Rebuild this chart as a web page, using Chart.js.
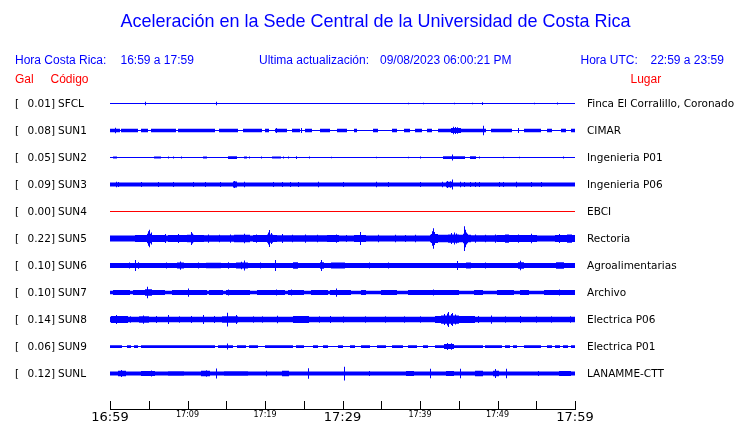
<!DOCTYPE html>
<html><head><meta charset="utf-8">
<script src="https://cdn.jsdelivr.net/npm/chart.js@4.4.0/dist/chart.umd.min.js"></script>
<style>html,body{margin:0;padding:0;background:#fff;}#wrap{width:740px;height:423px;position:relative;}</style>
</head><body><div id="wrap"><canvas id="c" width="740" height="423"></canvas></div>
<script>
// ---------- data ----------
const stationCodes = ['SFCL','SUN1','SUN2','SUN3','SUN4','SUN5','SUN6','SUN7','SUN8','SUN9','SUNL'];
const peakGal = ['0.01','0.08','0.05','0.09','0.00','0.22','0.10','0.10','0.14','0.06','0.12'];
const places = ['Finca El Corralillo, Coronado','CIMAR','Ingenieria P01','Ingenieria P06','EBCI','Rectoria','Agroalimentarias','Archivo','Electrica P06','Electrica P01','LANAMME-CTT'];
// background (noise) half-amplitude of each trace, Gal
const baseGal = [0.009,0.009,0.009,0.036,0.009,0.055,0.045,0.03,0.05,0.009,0.036];
const tickLabels = ['16:59','17:09','17:19','17:29','17:39','17:49','17:59'];
// bursts: [start minute, end minute, half-amplitude Gal], minutes after 16:59
const evSFCL = [[4.6,4.6,0.03],[13.7,13.7,0.03],[38.5,38.5,0.015],[40.4,40.4,0.015],[44.5,44.5,0.015],[46.8,46.8,0.015],[48.0,48.0,0.025],[54.8,54.8,0.015],[57.7,57.7,0.02]];
const evSUN1 = [[0,1.2,0.032],[0.7,0.7,0.05],[1.5,3.5,0.032],[4,4.8,0.032],[5.3,8.4,0.032],[8.8,13.5,0.032],[14.1,16.4,0.032],[17.2,19.5,0.03],[20,20.5,0.03],[21.3,22.8,0.032],[21.5,21.5,0.045],[23.5,24.5,0.03],[24.7,24.7,0.045],[25.2,26.0,0.03],[27.1,28.3,0.03],[29.3,30.5,0.03],[31.5,31.8,0.03],[34.0,34.5,0.03],[36.5,37.0,0.03],[38.0,38.6,0.03],[39.4,40.2,0.03],[41.0,41.5,0.03],[42.4,48.4,0.032],[44.1,45.2,0.045],[44.3,44.3,0.07],[44.6,44.6,0.065],[44.9,44.9,0.06],[48.2,48.2,0.085],[49.2,51.8,0.03],[52.7,52.7,0.045],[53.5,55.5,0.03],[56.5,57.0,0.03],[58.2,58.8,0.03],[59.5,60,0.03]];
const evSUN2 = [[0.4,0.9,0.02],[5.7,6.5,0.02],[7.5,7.5,0.02],[8.2,8.2,0.02],[9.2,9.2,0.02],[12,12.5,0.02],[15.3,16.3,0.025],[17.4,17.6,0.02],[18,18,0.02],[19.6,19.6,0.02],[21,22,0.02],[22.4,22.4,0.02],[23,23,0.02],[24.1,24.1,0.025],[25.8,25.8,0.02],[28.6,28.6,0.015],[34.4,34.4,0.015],[38.5,38.5,0.015],[40,40,0.02],[43,45.8,0.025],[44.2,44.2,0.055],[46.5,47.1,0.025],[47.7,47.7,0.02],[50.8,50.8,0.015],[52.8,52.8,0.015],[58.5,58.5,0.02]];
const evSUN3 = [[0.8,0.8,0.05],[1.1,1.1,0.045],[4,4,0.045],[6.2,6.2,0.045],[8.2,8.2,0.045],[10.8,10.8,0.045],[12.3,12.3,0.045],[14.2,14.2,0.045],[15.9,16.3,0.055],[16.1,16.1,0.065],[17.4,17.4,0.05],[21.1,21.1,0.045],[22.2,22.2,0.045],[23.3,23.3,0.045],[24.3,24.3,0.045],[26.9,26.9,0.05],[30.1,30.1,0.045],[34.4,34.4,0.05],[35.9,35.9,0.045],[40,40,0.045],[42.9,42.9,0.05],[43.4,44.1,0.05],[43.6,43.6,0.065],[43.9,43.9,0.06],[44.2,44.2,0.09],[45.2,45.2,0.05],[45.8,45.8,0.045],[46.5,46.5,0.045],[47.1,47.1,0.045],[47.7,47.7,0.045],[50.3,50.3,0.045],[50.8,50.8,0.045],[52.5,52.5,0.05],[54.4,54.4,0.045],[55.7,55.7,0.045]];
const evSUN4 = [];
const evSUN5 = [[3.3,7,0.065],[4.9,5.4,0.085],[5.0,5.0,0.13],[5.1,5.1,0.16],[5.3,5.3,0.11],[7.1,7.1,0.08],[7.5,12,0.065],[8.8,8.8,0.08],[10,10.8,0.07],[10.5,10.5,0.12],[10.6,10.6,0.09],[12,16,0.06],[12.7,12.7,0.075],[14.1,14.1,0.07],[15.5,15.5,0.075],[16,18,0.07],[17.4,17.4,0.085],[18.5,21.5,0.065],[18.9,18.9,0.075],[20.3,21,0.075],[20.5,20.5,0.11],[20.6,20.6,0.155],[20.8,20.8,0.1],[21.5,28,0.06],[22.2,22.2,0.08],[23.6,23.6,0.07],[25.2,25.2,0.075],[26.8,26.8,0.07],[28,29.5,0.065],[29.2,29.2,0.075],[30.5,30.5,0.065],[31.5,33,0.065],[32.3,32.3,0.12],[33,41,0.055],[34.6,34.6,0.07],[36.8,36.8,0.07],[38.1,38.1,0.065],[39.4,39.4,0.07],[41.4,46.5,0.07],[41.5,42.2,0.08],[41.6,41.6,0.13],[41.7,41.7,0.185],[41.9,41.9,0.12],[43.7,45,0.075],[44.0,44.0,0.1],[44.4,44.4,0.11],[44.7,44.7,0.09],[45.6,46.1,0.085],[45.7,45.7,0.14],[45.8,45.8,0.225],[45.9,45.9,0.16],[46.0,46.0,0.11],[46.5,50,0.06],[47.1,47.1,0.075],[48.5,48.5,0.07],[49.8,49.8,0.075],[50,55,0.065],[51,51.4,0.075],[52.7,52.7,0.075],[54.4,54.4,0.085],[55,57,0.055],[57.5,60,0.065],[58,58,0.08],[59,59.6,0.075]];
const evSUN6 = [[2.5,2.5,0.055],[3.3,3.3,0.1],[3.7,3.7,0.06],[7.3,7.3,0.055],[8.7,9.5,0.055],[9.1,9.1,0.075],[11.4,11.4,0.055],[12.5,14.2,0.05],[15.3,15.3,0.06],[16.3,17.8,0.055],[17.0,17.0,0.07],[17.4,17.4,0.09],[19.4,19.4,0.055],[21.3,21.3,0.1],[23.7,24.2,0.06],[27.1,27.5,0.06],[27.3,27.3,0.1],[28.6,30.3,0.055],[33.5,33.5,0.055],[35.9,35.9,0.055],[44.8,44.8,0.08],[46,46.5,0.055],[48.4,48.4,0.055],[52.7,53.3,0.06],[53,53,0.085],[57.6,58.5,0.06]];
const evSUN7 = [[0.5,2.5,0.045],[3,7,0.045],[4.6,5.4,0.06],[4.9,4.9,0.105],[8,12.5,0.045],[10.1,10.1,0.075],[12.8,14.5,0.045],[15,18,0.045],[15.3,15.3,0.055],[19,22.5,0.045],[21.5,21.5,0.055],[23,25,0.045],[23.4,23.4,0.055],[26,28,0.045],[28.5,31,0.045],[29.2,29.2,0.075],[32.5,33,0.045],[35,37,0.045],[38.5,45,0.045],[41.7,41.7,0.055],[47,48,0.045],[50,52,0.045],[53,54,0.045],[56,60,0.045],[58,58,0.055]];
const evSUN8 = [[0.2,2.2,0.065],[0.9,0.9,0.08],[2.6,2.6,0.06],[3.8,5,0.06],[4.3,4.3,0.075],[6.0,6.0,0.065],[7.6,7.6,0.08],[9.0,9.0,0.06],[10.5,10.5,0.065],[12.1,12.1,0.08],[13.5,13.5,0.065],[14.5,16.5,0.06],[15.2,15.2,0.125],[16.3,16.3,0.08],[18.5,18.5,0.06],[19.7,19.7,0.06],[21.6,21.6,0.07],[23.7,25.6,0.065],[27,27,0.06],[28.5,28.5,0.065],[30.1,30.1,0.06],[33,33,0.06],[35.5,35.5,0.06],[38,38,0.06],[40,40,0.06],[42,47,0.065],[42.8,45,0.075],[43.2,43.2,0.1],[43.5,43.5,0.11],[43.7,43.7,0.135],[44.0,44.0,0.1],[44.2,44.2,0.12],[44.6,44.6,0.09],[47.5,47.5,0.065],[49.2,49.2,0.075],[51,51,0.06],[53,53,0.065],[55,55,0.06],[57,57,0.06],[59.4,59.4,0.06]];
const evSUN9 = [[0,1.5,0.025],[2.2,2.7,0.025],[3.2,3.6,0.025],[4,13.5,0.025],[14,15.8,0.025],[15.2,15.2,0.055],[16.5,17.5,0.025],[18,19,0.025],[20,23.5,0.025],[24,25,0.025],[26.3,26.8,0.025],[27.5,28,0.025],[29.5,30,0.025],[31,31.5,0.025],[32.5,33.5,0.025],[34.5,35.5,0.025],[36.5,37.8,0.025],[38.5,39.5,0.025],[40.5,41,0.025],[42,48,0.025],[43.2,44.3,0.045],[43.6,43.6,0.065],[44.0,44.0,0.06],[48.5,50.5,0.025],[51,51.5,0.025],[52,52.5,0.025],[53.5,55.5,0.025],[56.5,57,0.025],[57.5,58,0.025],[58.5,59,0.025],[59.5,60,0.025]];
const evSUNL = [[1.1,2,0.05],[1.5,1.5,0.065],[4.1,5.8,0.045],[5.4,5.4,0.055],[7.5,9.5,0.042],[11.8,12.9,0.048],[12.5,12.5,0.06],[13.8,13.8,0.09],[14.8,17.8,0.042],[20.2,20.2,0.05],[22.2,23,0.05],[25.6,25.6,0.095],[30.3,30.3,0.125],[33.5,33.5,0.045],[38.3,39.1,0.045],[41.3,41.3,0.085],[43.4,44.3,0.045],[45.2,45.2,0.085],[47.1,48,0.048],[49.5,50.1,0.05],[49.8,49.8,0.08],[51.1,51.1,0.085],[55.3,55.3,0.045],[58,59.4,0.045]];
const stationEvents = [evSFCL,evSUN1,evSUN2,evSUN3,evSUN4,evSUN5,evSUN6,evSUN7,evSUN8,evSUN9,evSUNL];
const traceColors = ['#0000ff','#0000ff','#0000ff','#0000ff','#ff0000','#0000ff','#0000ff','#0000ff','#0000ff','#0000ff','#0000ff'];

// ---------- layout constants ----------
const PX_PER_GAL = 55, ROW_PX = 27, TOP = 76, PLOT_H = 333;
const BINS = 465, BIN_MIN = 60 / BINS;

function rowCenter(i) { return -(ROW_PX / 2 + 14 + ROW_PX * i) / PX_PER_GAL; }

function traceBars(i) {
  const c = rowCenter(i), out = [];
  for (let k = 0; k < BINS; k++) {
    const t0 = k * BIN_MIN, t1 = t0 + BIN_MIN;
    let a = baseGal[i];
    for (const [s, e, g] of stationEvents[i]) if (e >= t0 && s < t1 && g > a) a = g;
    out.push({x: t0 + BIN_MIN / 2, y: [c - a, c + a]});
  }
  return out;
}

const datasets = stationCodes.map((code, i) => ({
  label: code, data: traceBars(i), backgroundColor: traceColors[i],
  borderWidth: 0, barThickness: 1, grouped: false, inflateAmount: 0
}));

const textPlugin = {
  id: 'texts',
  afterDraw(chart) {
    const ctx = chart.ctx, xs = chart.scales.x, ys = chart.scales.y;
    ctx.save();
    // upward tick marks on time axis
    ctx.strokeStyle = '#000'; ctx.lineWidth = 1; ctx.beginPath();
    xs.ticks.forEach(t => {
      const px = Math.round(xs.getPixelForValue(t.value)) + 0.5;
      ctx.moveTo(px, xs.top - 8); ctx.lineTo(px, xs.top);
    });
    ctx.stroke();
    const H = '"Liberation Sans", Arial, sans-serif';
    ctx.textBaseline = 'middle';
    ctx.fillStyle = '#0000ff';
    // title, fitted to its width
    const title = 'Aceleración en la Sede Central de la Universidad de Costa Rica';
    ctx.font = '20px ' + H;
    const sz = 20 * 510 / ctx.measureText(title).width;
    ctx.font = sz.toFixed(2) + 'px ' + H;
    ctx.textAlign = 'center';
    ctx.fillText(title, 375.5, 22);
    ctx.font = '12px ' + H;
    ctx.textAlign = 'left';
    ctx.fillText('Hora Costa Rica:', 15, 61);
    ctx.fillText(tickLabels[0] + ' a ' + tickLabels[6], 120.5, 61);
    ctx.fillText('Ultima actualización:', 259, 61);
    ctx.fillText('09/08/2023 06:00:21 PM', 380, 61);
    ctx.fillText('Hora UTC:', 580.5, 61);
    ctx.fillText('22:59 a 23:59', 650.5, 61);
    ctx.fillStyle = '#ff0000';
    ctx.fillText('Gal', 15, 80);
    ctx.fillText('Código', 50.5, 80);
    ctx.fillText('Lugar', 630.5, 80);
    // station labels
    ctx.fillStyle = '#000';
    ctx.font = '10.5px "DejaVu Sans"';
    stationCodes.forEach((code, i) => {
      const y = ys.getPixelForValue(rowCenter(i)) + 0.5;
      ctx.textAlign = 'left'; ctx.fillText('[', 15, y);
      ctx.textAlign = 'right'; ctx.fillText(peakGal[i] + ']', 55, y);
      ctx.textAlign = 'left'; ctx.fillText(code, 58, y);
      ctx.fillText(places[i], 587, y);
    });
    ctx.restore();
  }
};

new Chart(document.getElementById('c'), {
  type: 'bar',
  data: { datasets },
  options: {
    responsive: false, animation: false, devicePixelRatio: 1, events: [],
    layout: { padding: { top: TOP, left: 110, right: 165, bottom: 0 } },
    plugins: { legend: { display: false }, tooltip: { enabled: false }, title: { display: false } },
    scales: {
      x: {
        type: 'linear', min: 0, max: 60, offset: false, position: 'bottom',
        grid: { display: true, drawOnChartArea: false, drawTicks: false, offset: false },
        border: { display: true, color: '#000', width: 1 },
        ticks: {
          stepSize: 5, autoSkip: false, maxRotation: 0, minRotation: 0, padding: 1, color: '#000',
          callback: v => (v % 10 === 0 ? tickLabels[v / 10] : ''),
          font: ctx => ({ family: '"DejaVu Sans"', size: (ctx.tick && ctx.tick.value % 30 === 0) ? 13 : 8 })
        },
        afterFit: s => { s.height = 14; }
      },
      y: { type: 'linear', display: false, min: -PLOT_H / PX_PER_GAL, max: 0 }
    }
  },
  plugins: [textPlugin]
});
</script></body></html>
